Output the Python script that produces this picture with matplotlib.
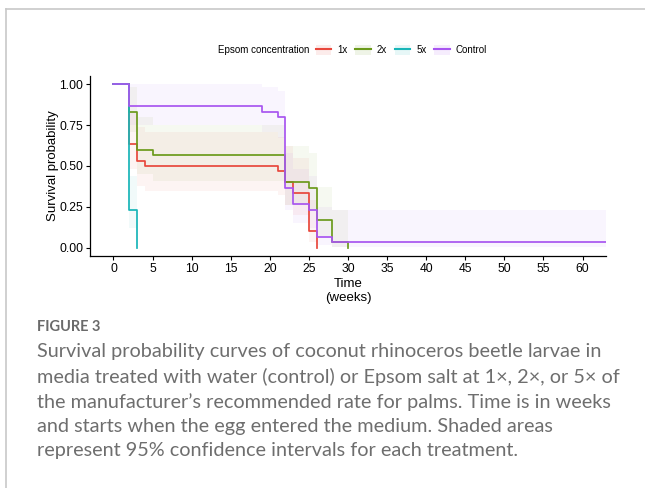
import numpy as np
import matplotlib.pyplot as plt
from matplotlib.patches import Patch
from matplotlib.lines import Line2D
from matplotlib.legend_handler import HandlerTuple

# Kaplan-Meier step data (time in weeks)
groups = ["1x", "2x", "5x", "Control"]
colors = ["#E8473C", "#6B9A1B", "#18B5B8", "#A855F0"]

t_1x = [0, 2, 3, 4, 21, 22, 23, 25, 26]
s_1x = [1.0, 0.633, 0.533, 0.500, 0.467, 0.400, 0.333, 0.100, 0.0]
lo_1x = [1.0, 0.48, 0.38, 0.35, 0.32, 0.26, 0.20, 0.035, 0.0]
hi_1x = [1.0, 0.83, 0.74, 0.71, 0.68, 0.62, 0.55, 0.29, 0.0]
end_1x = 26

t_2x = [0, 2, 3, 5, 22, 25, 26, 28, 30]
s_2x = [1.0, 0.833, 0.600, 0.567, 0.400, 0.367, 0.167, 0.033, 0.0]
lo_2x = [1.0, 0.71, 0.45, 0.41, 0.26, 0.23, 0.075, 0.005, 0.0]
hi_2x = [1.0, 0.98, 0.80, 0.75, 0.62, 0.58, 0.37, 0.23, 0.0]
end_2x = 30

t_5x = [0, 2, 3]
s_5x = [1.0, 0.233, 0.0]
lo_5x = [1.0, 0.12, 0.0]
hi_5x = [1.0, 0.44, 0.0]
end_5x = 3

t_ctrl = [0, 2, 19, 21, 22, 23, 25, 26, 28]
s_ctrl = [1.0, 0.867, 0.833, 0.800, 0.367, 0.267, 0.233, 0.067, 0.033]
lo_ctrl = [1.0, 0.75, 0.71, 0.67, 0.23, 0.15, 0.12, 0.018, 0.005]
hi_ctrl = [1.0, 1.0, 0.98, 0.96, 0.58, 0.48, 0.44, 0.25, 0.23]
end_ctrl = 63

curves = [
    (t_1x, s_1x, lo_1x, hi_1x, end_1x),
    (t_2x, s_2x, lo_2x, hi_2x, end_2x),
    (t_5x, s_5x, lo_5x, hi_5x, end_5x),
    (t_ctrl, s_ctrl, lo_ctrl, hi_ctrl, end_ctrl),
]

x_ticks = list(range(0, 65, 5))
y_ticks = [0.0, 0.25, 0.5, 0.75, 1.0]

caption_title = "FIGURE 3"
caption = (
    "Survival probability curves of coconut rhinoceros beetle larvae in\n"
    "media treated with water (control) or Epsom salt at 1\u00d7, 2\u00d7, or 5\u00d7 of\n"
    "the manufacturer\u2019s recommended rate for palms. Time is in weeks\n"
    "and starts when the egg entered the medium. Shaded areas\n"
    "represent 95% confidence intervals for each treatment."
)

plt.rcParams["font.family"] = ["Liberation Sans", "DejaVu Sans"]

W, H = 645, 488
fig = plt.figure(figsize=(W / 100, H / 100), dpi=100)
ax = fig.add_axes([90 / W, 1 - 256 / H, (606 - 90) / W, (256 - 76) / H])

for (t, s, lo, hi, end), c in zip(curves, colors):
    x = list(t) + [end]
    ax.fill_between(x, list(lo) + [lo[-1]], list(hi) + [hi[-1]], step="post",
                    color=c, alpha=0.06, linewidth=0)
    ax.step(x, list(s) + [s[-1]], where="post", color=c, lw=1.25)

ax.set_xlim(-3, 63)
ax.set_ylim(-0.05, 1.05)
ax.set_xticks(x_ticks)
ax.set_yticks(y_ticks)
ax.set_yticklabels([f"{v:.2f}" for v in y_ticks])
for side in ["top", "right"]:
    ax.spines[side].set_visible(False)
for side in ["left", "bottom"]:
    ax.spines[side].set_linewidth(0.9)
ax.tick_params(length=3, width=0.8, labelsize=8.7, colors="black", pad=2)
ax.set_ylabel("Survival probability", fontsize=9.5, labelpad=0)
ax.set_xlabel("Time\n(weeks)", fontsize=9.5, labelpad=2, linespacing=1.2)

# legend on top, title on the left like ggplot
ly = 1 - 50 / H
fig.text(218 / W, ly, "Epsom concentration", fontsize=7, va="center", ha="left")
handles = [(Patch(facecolor=c, alpha=0.1, edgecolor="none"), Line2D([], [], color=c, lw=1.5))
           for c in colors]
fig.legend(handles, groups, ncol=4, loc="center left", bbox_to_anchor=(311 / W, ly),
           frameon=False, fontsize=7, handlelength=1.6, handleheight=1.2,
           handletextpad=0.6, columnspacing=0.8, borderpad=0,
           handler_map={tuple: HandlerTuple(ndivide=1, pad=0)})

# page frame
fig.add_artist(Line2D([6 / W, 6 / W], [0, 1 - 9 / H], color="#c8c8c8", lw=1.2))
fig.add_artist(Line2D([6 / W, 1], [1 - 9 / H, 1 - 9 / H], color="#c8c8c8", lw=1.2))

fig.text(37 / W, 1 - 327 / H, caption_title, fontsize=10.5, color="#6a6a6a",
         family=["Lato", "DejaVu Sans"], weight="bold", va="center")
fig.text(37 / W, 1 - 343 / H, caption, fontsize=14.3, color="#6e6e6e",
         family=["Lato", "DejaVu Sans"], va="top", linespacing=1.5)

fig.savefig("out.png", dpi=100)
